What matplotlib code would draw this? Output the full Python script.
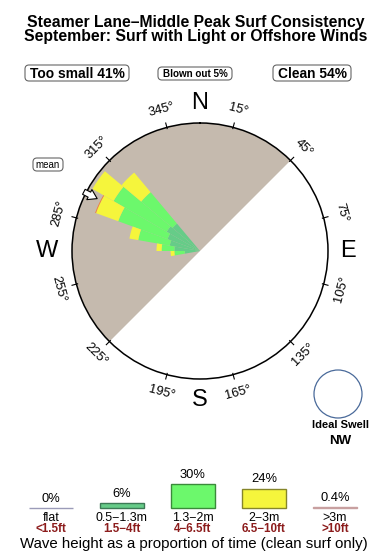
import numpy as np
import matplotlib
matplotlib.use('Agg')
import matplotlib.pyplot as plt
from matplotlib.patches import FancyBboxPatch, Circle

plt.rcParams['font.family'] = ['Liberation Sans', 'DejaVu Sans']

# summary numbers
too_small = 41
blown_out = 5
clean = 54

# rose: direction bins (deg) and outer radius of each height band (1 = rim)
rose_dirs = [265, 275, 285, 295, 305, 315]
r_05_13 = [0.12, 0.20, 0.24, 0.27, 0.30, 0.28]
r_13_2 = [0.20, 0.30, 0.49, 0.68, 0.78, 0.60]
r_2_3 = [0.23, 0.34, 0.56, 0.865, 0.97, 0.80]
r_3p = [0.23, 0.34, 0.56, 0.872, 0.97, 0.80]
mean_dir = 297
offshore_from, offshore_to = 225, 45   # light/offshore wind sector

# legend
band_pct = [0, 6, 30, 24, 0.4]
band_m = ['flat', '0.5\u22121.3m', '1.3\u22122m', '2\u22123m', '>3m']
band_ft = ['<1.5ft', '1.5\u22124ft', '4\u22126.5ft', '6.5\u221210ft', '>10ft']
band_pct_txt = ['0%', '6%', '30%', '24%', '0.4%']

fill_cols = ['white', '#66cc88', '#6cf86c', '#f5f53c', '#f08040']
edge_cols = ['#9b9bb8', '#3d7a56', '#3a8a3a', '#85852a', '#c8a0a0']

W, H = 390, 560
fig = plt.figure(figsize=(W / 100, H / 100), dpi=100)

# overlay axes in pixel coords
ax0 = fig.add_axes([0, 0, 1, 1])
ax0.set_xlim(0, W)
ax0.set_ylim(H, 0)
ax0.axis('off')

ax0.text(196, 27, 'Steamer Lane\u2013Middle Peak Surf Consistency', ha='center', va='baseline',
         fontsize=11.3, fontweight='bold')
ax0.text(196, 41, 'September: Surf with Light or Offshore Winds', ha='center', va='baseline',
         fontsize=11.3, fontweight='bold')

def rbox(x0, y0, x1, y1, txt, fs, bold=True):
    p = FancyBboxPatch((x0, y0), x1 - x0, y1 - y0, boxstyle='round,pad=0,rounding_size=4',
                       fc='white', ec='#666666', lw=0.8)
    ax0.add_patch(p)
    ax0.text((x0 + x1) / 2, (y0 + y1) / 2 + 0.5, txt, ha='center', va='center', fontsize=fs,
             fontweight='bold' if bold else 'normal')

rbox(25, 65, 129, 81, f'Too small {too_small}%', 9.9)
rbox(158, 67, 232, 80, f'Blown out {blown_out}%', 7.1)
rbox(273, 65, 351, 81, f'Clean {clean}%', 9.9)
rbox(33, 158, 63, 171, 'mean', 7, bold=False)

# ideal swell
ax0.add_patch(Circle((338, 394), 24, fc='white', ec='#4a6a9a', lw=0.9))
ax0.text(340, 425, 'Ideal Swell', ha='center', va='center', fontsize=8, fontweight='bold')
ax0.text(340, 441, 'NW', ha='center', va='center', fontsize=9.5, fontweight='bold')

ax0.text(194, 544, 'Wave height as a proportion of time (clean surf only)', ha='center',
         va='center', fontsize=10.8)

# rose
cx, cy, R = 200, 251, 128
ax = fig.add_axes([(cx - R) / W, (H - cy - R) / H, 2 * R / W, 2 * R / H], projection='polar')
ax.set_theta_zero_location('N')
ax.set_theta_direction(-1)
ax.set_ylim(0, 1)
ax.grid(False)
ax.set_xticks([])
ax.set_yticks([])
ax.spines['polar'].set_linewidth(1.1)

span = (offshore_to - offshore_from) % 360
ax.bar(np.deg2rad(offshore_from + span / 2), 1, width=np.deg2rad(span), bottom=0,
       color='#c5baae', edgecolor='none', zorder=1)

th = np.deg2rad(rose_dirs)
wd = np.deg2rad(10)
inner = np.zeros(len(rose_dirs))
for k, outer in enumerate([r_05_13, r_13_2, r_2_3, r_3p]):
    outer = np.array(outer)
    ax.bar(th, outer - inner, width=wd, bottom=inner, color=fill_cols[k + 1],
           edgecolor='none', zorder=2)
    inner = outer

ax.annotate('', xy=(np.deg2rad(mean_dir), 0.88), xytext=(np.deg2rad(mean_dir), 1.04),
            arrowprops=dict(arrowstyle='simple,head_length=0.7,head_width=0.9,tail_width=0.45',
                            fc='white', ec='black', lw=0.8, mutation_scale=9),
            annotation_clip=False, zorder=5)

for a in range(15, 360, 30):
    t = np.deg2rad(a)
    ax.plot([t, t], [0.99, 1.035], color='k', lw=0.8, clip_on=False, zorder=4)
    rot = ((-a + 90) % 180) - 90
    ax.text(t, 1.145, f'{a}\u00b0', rotation=rot, rotation_mode='anchor', ha='center',
            va='center', fontsize=9.3)

for lab, a, r in [('N', 0, 1.156), ('E', 90, 1.156), ('S', 180, 1.164), ('W', 270, 1.195)]:
    ax.text(np.deg2rad(a), r, lab, ha='center', va='center', fontsize=17)

# wave-height legend
base = 507.7
pxper = 0.8
axl = fig.add_axes([0, (H - base) / H, 1, 40 / H])
axl.set_xlim(-51 / 71, (W - 51) / 71)
axl.set_ylim(0, 40 / pxper)
axl.axis('off')
xs = np.arange(len(band_pct))
axl.bar(xs, band_pct, width=0.62, color=fill_cols, edgecolor=edge_cols, linewidth=1, clip_on=False)
for i in xs:
    axl.annotate(band_pct_txt[i], (i, band_pct[i]), xytext=(0, 3), textcoords='offset pixels',
                 ha='center', va='bottom', fontsize=9.3, annotation_clip=False)
    axl.annotate(band_m[i], (i, 0), xytext=(0, -10), textcoords='offset pixels',
                 ha='center', va='center', fontsize=8.9, annotation_clip=False)
    axl.annotate(band_ft[i], (i, 0), xytext=(0, -21), textcoords='offset pixels',
                 ha='center', va='center', fontsize=8.4, fontweight='bold', color='#8c1c1c',
                 annotation_clip=False)

fig.savefig('out.png', dpi=100)
